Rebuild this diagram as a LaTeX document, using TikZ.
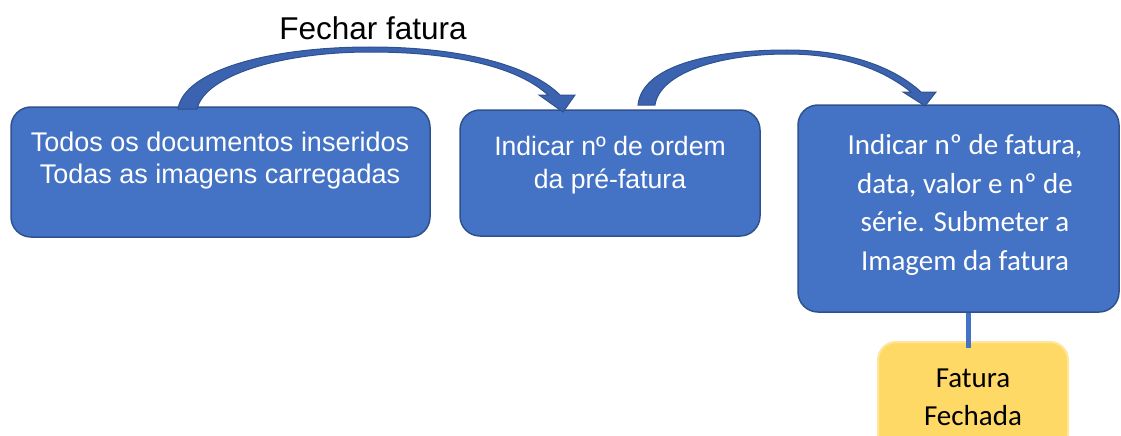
\documentclass[tikz,border=0pt]{standalone}
\usepackage{fontspec}
\setmainfont{Liberation Sans}
\newfontfamily\carlito{Carlito}
\definecolor{boxblue}{HTML}{4472C4}
\definecolor{boxedge}{HTML}{2F528F}
\definecolor{arrowfill}{HTML}{3B63B0}
\definecolor{yfill}{HTML}{FFD966}
\definecolor{yedge}{HTML}{FFE699}
\begin{document}
\begin{tikzpicture}[x=1pt,y=-1pt,
  bluebox/.style={draw=boxedge,fill=boxblue,line width=1.5pt,rounded corners=20pt,inner sep=0pt},
  yellowbox/.style={draw=yedge,fill=yfill,line width=2pt,rounded corners=18pt,inner sep=0pt},
  boxtext/.style={text=white,align=center,inner sep=0pt},
  curvearrow/.style={fill=arrowfill,draw=boxedge,line width=1pt,line join=miter}]
\useasboundingbox (0,0) rectangle (1121,436);
\node[bluebox,minimum width=419pt,minimum height=130pt] (b1) at (220.5,172) {};
\node[bluebox,minimum width=300pt,minimum height=126pt] (b2) at (610,173) {};
\node[bluebox,minimum width=321pt,minimum height=207pt] (b3) at (958.5,208.5) {};
\node[yellowbox,minimum width=190pt,minimum height=110pt] (fy) at (973,397) {};
\node[boxtext,font=\fontsize{27}{32}\selectfont] (t1) at (220,160.5) {Todos os documentos inseridos\\Todas as imagens carregadas};
\node[boxtext,font=\fontsize{26.6}{33}\selectfont] (t2) at (610,165) {Indicar nº de ordem\\da pré-fatura};
\node[boxtext,font=\carlito\fontsize{29}{38.5}\selectfont] (t3) at (965,205) {Indicar nº de fatura,\\data, valor e nº de\\série. Submeter a\\Imagem da fatura};
\node[align=center,inner sep=0pt,font=\carlito\fontsize{29}{38}\selectfont] (t4) at (973,397) {Fatura\\Fechada};
\node[inner sep=0pt,anchor=base,font=\fontsize{31.5}{34}\selectfont] (title) at (373,40) {Fechar fatura};
\draw[boxblue,line width=5pt] ([xshift=9.5pt]b3.south) -- ([xshift=-5pt,yshift=-7pt]fy.north);
\filldraw[curvearrow] (178,109) .. controls (184,70) and (270,47) .. (370,47)
  .. controls (460,47) and (530,65) .. (560,95) -- (575,95) -- (563,112) -- (539,95) -- (548,95)
  .. controls (520,69) and (460,52) .. (370,52) .. controls (282,52) and (205,75) .. (197,109) -- cycle;
\filldraw[curvearrow] (638,105) .. controls (642,66) and (710,50) .. (787,50)
  .. controls (850,50) and (895,68) .. (921,92) -- (936,92) -- (925,106) -- (903,92) -- (911,92)
  .. controls (885,71) and (845,54) .. (787,54) .. controls (722,54) and (660,72) .. (655,105) -- cycle;
\end{tikzpicture}
\end{document}
